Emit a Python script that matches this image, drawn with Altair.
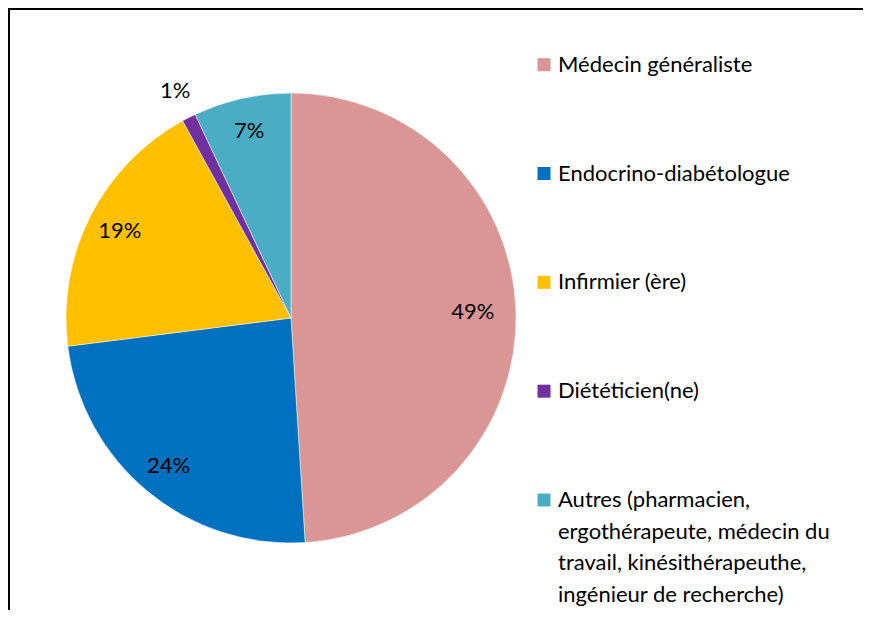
import altair as alt
import pandas as pd

categories = [
    "Médecin généraliste",
    "Endocrino-diabétologue",
    "Infirmier (ère)",
    "Diététicien(ne)",
    "Autres (pharmacien, ergothérapeute, médecin du travail, kinésithérapeuthe, ingénieur de recherche)",
]
legend_labels = [
    "Médecin généraliste",
    "Endocrino-diabétologue",
    "Infirmier (ère)",
    "Diététicien(ne)",
    "Autres (pharmacien,\nergothérapeute, médecin du\ntravail, kinésithérapeuthe,\ningénieur de recherche)",
]
values = [49, 24, 19, 1, 7]
colors = ["#D99694", "#0070C0", "#FFC000", "#7030A0", "#4BACC6"]

df = pd.DataFrame({
    "category": categories,
    "label": legend_labels,
    "value": values,
    "idx": list(range(len(categories))),
})

W, H = 855, 602
CX, CY = 283, 310
FONT = "Lato"

color_scale = alt.Scale(domain=categories, range=colors)
theta_scale = alt.Scale(domain=[0, sum(values)])
base = alt.Chart(df)

pie = base.mark_arc(outerRadius=225, stroke="white", strokeWidth=0.5).encode(
    theta=alt.Theta("value:Q", stack=True, scale=theta_scale),
    order=alt.Order("idx:Q"),
    color=alt.Color("category:N", scale=color_scale, legend=None),
    x=alt.value(CX),
    y=alt.value(CY),
)

pct = base.transform_stack(
    stack="value", as_=["v0", "v1"], groupby=[], sort=[alt.SortField("idx", order="ascending")]
).transform_calculate(
    mid="(datum.v0 + datum.v1) / 2",
    pct="datum.value + '%'",
    rad="datum.value == 1 ? 255 : (datum.value == 49 ? 182 : 192)",
).mark_text(font=FONT, fontSize=22, color="black", align="center", baseline="middle").encode(
    theta=alt.Theta("mid:Q", stack=None, scale=theta_scale),
    text="pct:N",
    radius=alt.Radius("rad:Q", scale=None),
    x=alt.value(CX),
    y=alt.value(CY),
)

yscale = alt.Scale(domain=[0, 4], range=[63.7, 499])

leg_sq = base.mark_square(size=169, opacity=1).encode(
    x=alt.value(536),
    y=alt.Y("idx:Q", scale=yscale, axis=None),
    yOffset=alt.value(-7),
    color=alt.Color("category:N", scale=color_scale, legend=None),
)

leg_txt = base.mark_text(
    font=FONT, fontSize=22, color="black", align="left", baseline="alphabetic",
    lineBreak="\n", lineHeight=31.5,
).encode(
    x=alt.value(550),
    y=alt.Y("idx:Q", scale=yscale, axis=None),
    text="label:N",
)

frame_df = pd.DataFrame({"a": [0]})
top_line = alt.Chart(frame_df).mark_rule(color="black", strokeWidth=2).encode(
    x=alt.value(0), x2=alt.value(W), y=alt.value(1)
)
left_line = alt.Chart(frame_df).mark_rule(color="black", strokeWidth=2).encode(
    x=alt.value(1), y=alt.value(0), y2=alt.value(H)
)

chart = alt.layer(pie, pct, leg_sq, leg_txt, top_line, left_line).properties(
    width=W, height=H, padding=0, autosize=alt.AutoSizeParams(type="none")
).configure_view(stroke=None)

chart.save("out.html", embed_options={"renderer": "svg", "actions": False})
